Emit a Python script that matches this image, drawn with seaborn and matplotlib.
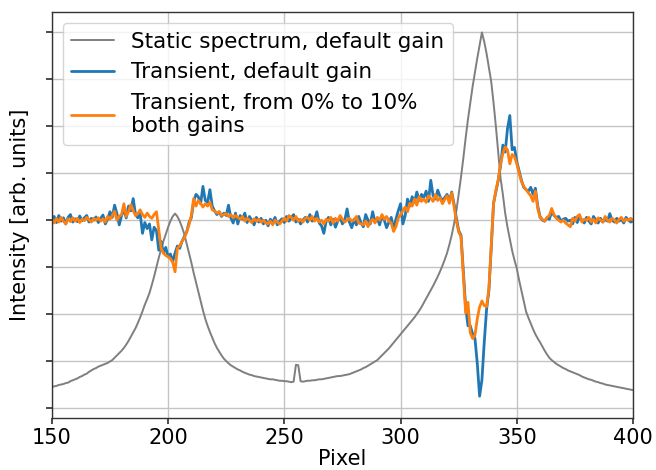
import numpy as np
import pandas as pd
import seaborn as sns
import matplotlib
matplotlib.use("Agg")
import matplotlib.pyplot as plt

# Detector pixel axis
pixel = list(range(150, 401))

# Static spectrum, default gain (arb. units)
static_spectrum = [
    0.45, 0.46, 0.47, 0.49, 0.50, 0.51, 0.53, 0.54, 0.57, 0.59,
    0.61, 0.63, 0.66, 0.68, 0.71, 0.73, 0.77, 0.80, 0.83, 0.85,
    0.88, 0.90, 0.92, 0.94, 0.96, 0.99, 1.02, 1.07, 1.12, 1.17,
    1.22, 1.28, 1.35, 1.43, 1.52, 1.61, 1.70, 1.81, 1.93, 2.06,
    2.20, 2.32, 2.45, 2.62, 2.80, 3.00, 3.20, 3.38, 3.55, 3.70,
    3.85, 3.98, 4.08, 4.14, 4.08, 3.98, 3.85, 3.70, 3.50, 3.30,
    3.10, 2.88, 2.68, 2.48, 2.28, 2.08, 1.90, 1.75, 1.62, 1.50,
    1.38, 1.28, 1.20, 1.12, 1.05, 1.00, 0.95, 0.91, 0.88, 0.85,
    0.82, 0.80, 0.77, 0.75, 0.73, 0.71, 0.70, 0.68, 0.67, 0.66,
    0.65, 0.64, 0.63, 0.62, 0.61, 0.61, 0.60, 0.59, 0.58, 0.58,
    0.57, 0.57, 0.56, 0.55, 0.56, 0.92, 0.91, 0.57, 0.56, 0.57,
    0.58, 0.58, 0.59, 0.59, 0.60, 0.61, 0.61, 0.62, 0.63, 0.64,
    0.65, 0.66, 0.67, 0.68, 0.68, 0.69, 0.70, 0.71, 0.72, 0.74,
    0.76, 0.78, 0.80, 0.82, 0.85, 0.87, 0.90, 0.93, 0.96, 0.99,
    1.02, 1.07, 1.12, 1.17, 1.22, 1.27, 1.33, 1.39, 1.45, 1.51,
    1.57, 1.63, 1.69, 1.75, 1.81, 1.87, 1.93, 2.00, 2.07, 2.15,
    2.24, 2.33, 2.42, 2.51, 2.60, 2.70, 2.80, 2.91, 3.03, 3.16,
    3.30, 3.48, 3.68, 3.92, 4.20, 4.55, 4.92, 5.32, 5.75, 6.15,
    6.50, 6.85, 7.15, 7.45, 7.72, 8.00, 7.80, 7.55, 7.25, 6.95,
    6.50, 6.00, 5.45, 4.90, 4.55, 4.15, 3.85, 3.60, 3.35, 3.15,
    2.97, 2.72, 2.50, 2.28, 2.05, 1.92, 1.80, 1.68, 1.57, 1.48,
    1.40, 1.31, 1.22, 1.14, 1.07, 1.02, 0.98, 0.94, 0.91, 0.88,
    0.85, 0.83, 0.80, 0.78, 0.76, 0.74, 0.72, 0.70, 0.67, 0.65,
    0.63, 0.61, 0.60, 0.58, 0.56, 0.55, 0.53, 0.52, 0.50, 0.49,
    0.48, 0.47, 0.46, 0.45, 0.44, 0.43, 0.42, 0.41, 0.40, 0.39, 0.38,
]

# Transient signal, default gain
transient_default = [
    4.02, 4.08, 3.95, 4.10, 3.98, 4.05, 3.92, 4.06, 4.12, 3.96,
    4.03, 3.97, 4.09, 3.99, 4.05, 4.10, 3.96, 4.04, 4.00, 4.07,
    3.95, 4.04, 4.11, 3.92, 4.02, 4.18, 4.06, 4.32, 4.14, 3.90,
    4.10, 4.22, 4.05, 4.30, 4.20, 4.46, 4.12, 4.05, 4.14, 3.72,
    3.95, 3.82, 3.92, 3.58, 3.85, 3.78, 3.36, 3.55, 3.30, 3.42,
    3.22, 3.28, 3.12, 3.30, 3.45, 3.40, 3.55, 3.65, 3.75, 3.95,
    4.05, 4.40, 4.55, 4.50, 4.35, 4.72, 4.42, 4.38, 4.65, 4.30,
    4.20, 4.12, 4.18, 4.08, 4.15, 4.10, 4.32, 4.05, 3.94, 4.15,
    3.92, 4.10, 4.02, 4.15, 3.95, 4.08, 4.00, 3.90, 4.06, 3.96,
    4.04, 3.92, 4.00, 3.88, 4.02, 3.95, 4.06, 3.90, 3.98, 4.03,
    3.95, 4.08, 3.98, 4.05, 4.12, 3.96, 4.02, 3.92, 4.00, 4.06,
    3.96, 4.12, 3.98, 4.02, 4.18, 3.94, 3.88, 3.72, 3.98, 4.06,
    3.90, 4.02, 3.85, 3.98, 4.06, 3.92, 4.00, 4.24, 3.96, 3.84,
    4.02, 3.90, 4.08, 3.94, 3.86, 4.12, 4.00, 3.92, 4.18, 3.96,
    4.04, 3.90, 4.10, 4.00, 3.84, 3.96, 4.06, 3.80, 4.02, 4.20,
    4.35, 3.92, 4.10, 4.45, 4.30, 4.50, 4.38, 4.60, 4.42, 4.55,
    4.48, 4.62, 4.40, 4.85, 4.52, 4.45, 4.64, 4.50, 4.42, 4.48,
    4.55, 4.40, 4.60, 4.35, 4.05, 3.78, 3.68, 2.90, 2.15, 1.75,
    1.75, 1.58, 1.48, 0.95, 0.25, 0.60, 1.40, 2.10, 2.50, 3.40,
    4.36, 4.60, 4.85, 5.15, 5.60, 5.45, 5.95, 6.23, 5.50, 5.55,
    5.25, 5.05, 4.85, 4.70, 4.65, 4.62, 4.70, 4.55, 4.68, 4.30,
    4.08, 4.00, 3.98, 4.05, 4.02, 4.18, 4.10, 4.06, 4.08, 3.98,
    4.02, 4.04, 3.98, 4.00, 3.92, 4.06, 3.95, 4.08, 4.00, 3.94,
    4.06, 3.98, 3.92, 4.08, 4.00, 3.94, 4.04, 3.96, 4.02, 3.98,
    4.14, 4.00, 3.96, 4.04, 3.98, 4.02, 3.94, 4.06, 4.00, 3.96, 3.98,
]

# Transient signal, 0% to 10% with both gains
transient_both = [
    4.00, 3.94, 4.04, 3.96, 4.06, 3.98, 3.92, 4.03, 3.97, 4.05,
    3.98, 4.04, 3.95, 4.02, 3.99, 4.06, 4.01, 3.96, 4.04, 4.00,
    4.05, 3.98, 4.03, 3.96, 4.08, 4.02, 4.10, 4.19, 4.00, 4.08,
    4.12, 4.35, 4.08, 4.18, 4.33, 4.20, 4.10, 4.14, 4.22, 4.12,
    4.06, 4.15, 4.08, 4.04, 4.12, 4.18, 3.80, 3.40, 3.30, 3.25,
    3.22, 3.18, 3.10, 2.90, 3.40, 3.45, 3.55, 3.62, 3.75, 3.90,
    4.10, 4.46, 4.30, 4.42, 4.36, 4.28, 4.35, 4.30, 4.38, 4.22,
    4.20, 4.15, 4.18, 4.10, 4.12, 4.14, 4.08, 4.12, 4.05, 4.10,
    4.06, 4.02, 4.08, 3.98, 4.04, 4.00, 3.95, 4.03, 3.98, 4.02,
    3.96, 4.00, 3.94, 3.92, 3.98, 3.90, 4.00, 3.96, 3.92, 3.98,
    4.04, 3.98, 4.10, 4.06, 4.00, 4.08, 3.98, 4.02, 3.96, 4.04,
    4.06, 4.00, 4.08, 3.98, 4.04, 3.96, 4.00, 3.92, 4.02, 3.98,
    4.06, 3.94, 4.04, 3.98, 4.10, 4.02, 3.96, 4.00, 4.04, 3.98,
    4.00, 4.08, 3.94, 3.92, 3.90, 3.98, 3.86, 3.96, 4.02, 3.94,
    4.06, 4.00, 4.12, 4.02, 4.08, 3.98, 3.94, 3.76, 3.86, 4.04,
    4.12, 4.20, 4.28, 4.18, 4.36, 4.30, 4.45, 4.32, 4.50, 4.40,
    4.45, 4.38, 4.52, 4.46, 4.40, 4.55, 4.42, 4.48, 4.35, 4.44,
    4.52, 4.36, 4.58, 4.30, 3.98, 3.75, 3.65, 2.85, 2.02, 2.25,
    1.60, 1.48, 1.55, 1.90, 2.15, 2.28, 2.18, 2.16, 2.55, 3.45,
    4.36, 4.64, 4.85, 5.20, 5.42, 5.56, 5.50, 5.20, 5.40, 5.35,
    5.20, 5.00, 4.82, 4.72, 4.65, 4.58, 4.52, 4.40, 4.62, 4.25,
    4.05, 4.02, 3.98, 4.06, 4.10, 4.25, 4.12, 4.04, 4.00, 3.96,
    4.00, 3.94, 3.90, 3.86, 4.04, 3.98, 4.08, 4.12, 3.96, 4.02,
    4.00, 4.06, 3.96, 4.02, 3.94, 4.05, 4.00, 3.96, 4.08, 4.00,
    3.96, 4.04, 4.00, 3.94, 4.02, 4.06, 3.98, 4.02, 4.00, 4.04, 4.00,
]

labels = [
    "Static spectrum, default gain",
    "Transient, default gain",
    "Transient, from 0% to 10%\nboth gains",
]
x_ticks = [150, 200, 250, 300, 350, 400]

sns.set_theme(style="whitegrid", rc={
    "axes.edgecolor": "#333333",
    "axes.linewidth": 1.0,
    "grid.color": "#c4c4c4",
    "grid.linewidth": 1.0,
    "xtick.bottom": True,
    "ytick.left": True,
    "xtick.major.size": 4,
    "ytick.major.size": 4,
    "xtick.color": "#333333",
    "ytick.color": "#333333",
    "text.color": "black",
    "axes.labelcolor": "black",
})
plt.rcParams["font.family"] = ["DejaVu Sans"]

fig = plt.figure(figsize=(6.56, 4.70), dpi=100)
ax = fig.add_axes([0.079, 0.111, 0.886, 0.863])

df = pd.DataFrame({
    "pixel": pixel,
    "static": static_spectrum,
    "default": transient_default,
    "both": transient_both,
})

sns.lineplot(data=df, x="pixel", y="static", ax=ax, color="#7f7f7f",
             linewidth=1.4, label=labels[0])
sns.lineplot(data=df, x="pixel", y="default", ax=ax, color="#1f77b4",
             linewidth=2.0, label=labels[1])
sns.lineplot(data=df, x="pixel", y="both", ax=ax, color="#ff7f0e",
             linewidth=2.0, label=labels[2])

ax.set_xlim(150, 400)
ax.set_ylim(-0.21, 8.43)
ax.set_xticks(x_ticks)
ax.set_yticks(range(0, 9))
ax.set_yticklabels([])
ax.tick_params(axis="x", labelsize=15, colors="#333333", labelcolor="black",
               pad=3)
ax.set_xlabel("Pixel", fontsize=15, labelpad=1, color="black")
ax.set_ylabel("Intensity [arb. units]", fontsize=15, labelpad=8, color="black")
for s in ax.spines.values():
    s.set_visible(True)

leg = ax.legend(loc="upper left", fontsize=15.5, handlelength=2.0,
                handletextpad=0.8, borderaxespad=0.5, framealpha=0.8)
leg.get_frame().set_edgecolor("#cccccc")
for t in leg.get_texts():
    t.set_color("black")

fig.savefig("out.png", dpi=100)
